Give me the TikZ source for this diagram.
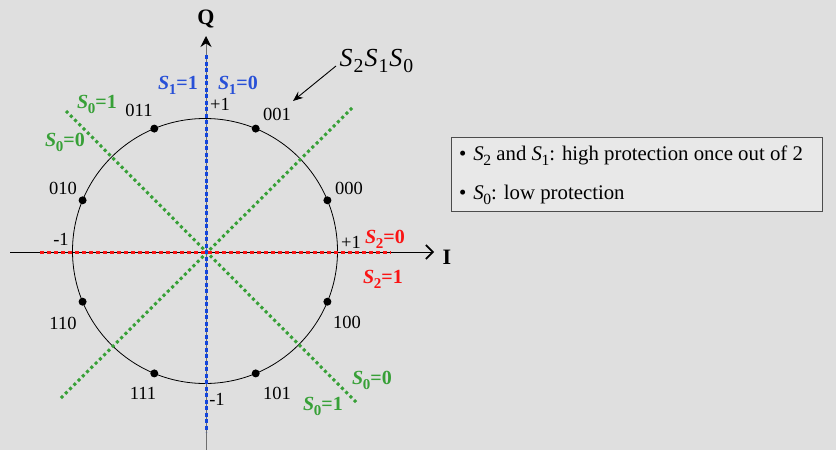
\documentclass[tikz,border=0pt]{standalone}
\usepackage{fontspec}
\setmainfont{Liberation Serif}
\usetikzlibrary{arrows.meta,calc}
\definecolor{bg}{RGB}{223,223,223}
\definecolor{boxfill}{RGB}{232,232,232}
\definecolor{sblue}{RGB}{20,70,220}
\definecolor{lblue}{RGB}{40,80,215}
\definecolor{sred}{RGB}{250,20,20}
\definecolor{sgreen}{RGB}{55,160,55}
\definecolor{axgrey}{RGB}{110,110,110}
\newcommand\Ssub[1]{\textit{S}\kern-0.5pt\raisebox{-0.25em}{\scalebox{0.75}{#1}}}
\newcommand\Sbig[1]{\textit{S}\kern1pt\raisebox{-0.22em}{\scalebox{0.76}{#1}}\kern1pt}
\tikzset{
  lbl/.style={font=\fontsize{18.5}{20}\selectfont, inner sep=0pt},
  boxtxt/.style={font=\fontsize{20.8}{23}\selectfont, inner sep=0pt},
  blbl/.style={font=\bfseries\fontsize{20}{22}\selectfont, inner sep=0pt},
  symdot/.style={circle, fill=black, inner sep=0pt, minimum size=8pt},
  dotline/.style={line width=3pt, dash pattern=on 3pt off 3pt},
}
\begin{document}
\begin{tikzpicture}[x=1pt,y=-1pt]
\fill[bg] (0,0) rectangle (836,450);
\useasboundingbox (0,0) rectangle (836,450);
% coordinates
\coordinate (c) at (205,251);
\coordinate (qbot) at (206,450);
\coordinate (qtop) at (206,36);
\coordinate (ileft) at (10,252);
\coordinate (iright) at (434,252);
% axes
\draw[axgrey, line width=1pt, -{Stealth[length=11pt,width=11pt,black]}] (qbot) -- (qtop);
\draw[black, line width=1pt, -{Straight Barb[length=7pt,width=14pt,line width=1.6pt]}] (ileft) -- (iright);
\node[font=\bfseries\fontsize{22}{24}\selectfont, inner sep=0pt] (Q) at (206,19) {Q};
\node[font=\bfseries\fontsize{22}{24}\selectfont, inner sep=0pt] (I) at (447,257) {I};
% circle
\draw[black, line width=0.8pt] (c) circle[radius=132.5pt];
% decision lines
\coordinate (g1a) at (61,398);
\coordinate (g1b) at (353,107);
\coordinate (g2a) at (66,111);
\coordinate (g2b) at (357,403);
\draw[sgreen, dotline] (g1a) -- (g1b);
\draw[sgreen, dotline] (g2a) -- (g2b);
\coordinate (ra) at (40,252);
\coordinate (rb) at (391,252);
\draw[sred, line width=3pt, dash pattern=on 4pt off 3pt] (ra) -- (rb);
\coordinate (ba) at (206,55);
\coordinate (bb) at (206,432);
\draw[sblue, line width=3pt, dash pattern=on 4pt off 2.5pt] (ba) -- (bb);
% symbols
\foreach \a/\n in {22.5/p000,67.5/p001,112.5/p011,157.5/p010,202.5/p110,247.5/p111,292.5/p101,337.5/p100}{
  \node[symdot] (\n) at ($(c)+({132.5*cos(\a)},{-132.5*sin(\a)})$) {};
}
% labels of symbols
\node[lbl] (l011) at (139,110) {011};
\node[lbl] (l001) at (277,114) {001};
\node[lbl] (l010) at (63,188) {010};
\node[lbl] (l000) at (349,188) {000};
\node[lbl] (l110) at (63,323) {110};
\node[lbl] (l100) at (347,322) {100};
\node[lbl] (l111) at (143,393) {111};
\node[lbl] (l101) at (277,393) {101};
% tick labels
\node[lbl] (tp1) at (220,104) {+1};
\node[lbl] (tm1) at (61,239) {-1};
\node[lbl] (tpr) at (351,242) {+1};
\node[lbl] (tmb) at (217,399) {-1};
% region labels
\node[blbl, text=lblue] (s11) at (178,85) {\Ssub{1}=1};
\node[blbl, text=lblue] (s10) at (238,85) {\Ssub{1}=0};
\node[blbl, text=sred] (s20) at (385,239) {\Ssub{2}=0};
\node[blbl, text=sred] (s21) at (383,279) {\Ssub{2}=1};
\node[blbl, text=sgreen] (s01u) at (97,104) {\Ssub{0}=1};
\node[blbl, text=sgreen] (s00u) at (65,142) {\Ssub{0}=0};
\node[blbl, text=sgreen] (s00l) at (372,380) {\Ssub{0}=0};
\node[blbl, text=sgreen] (s01l) at (323,406) {\Ssub{0}=1};
% S2S1S0 label
\node[font=\fontsize{26}{28}\selectfont, inner sep=0pt] (lab) at (377,61) {\Sbig{2}\Sbig{1}\Sbig{0}};
\coordinate (arrs) at (336,66);
\coordinate (arre) at (293,101);
\draw[black, line width=0.9pt, -{Stealth[length=10pt,width=8pt]}] (arrs) -- (arre);
% info box
\node[draw=black!70, line width=0.8pt, fill=boxfill, minimum width=371pt, minimum height=74pt, anchor=north west, inner sep=0pt] (box) at (451,137) {};
\node[boxtxt, anchor=west] (b1) at (459,156) {\textbullet\hspace{7pt}\Ssub{2} and \Ssub{1}: high protection once out of 2};
\node[boxtxt, anchor=west] (b2) at (459,195) {\textbullet\hspace{7pt}\Ssub{0}: low protection};
\end{tikzpicture}
\end{document}
